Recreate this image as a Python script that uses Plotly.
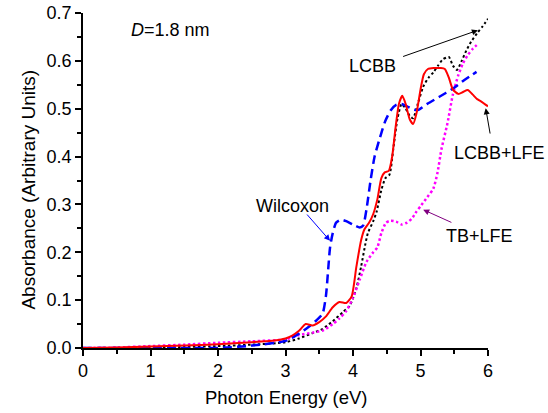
import plotly.graph_objects as go

# ---- data ----
lcbb_lfe_x = [0, 0.5, 1.0, 1.5, 2.0, 2.5, 2.8, 3.0, 3.1, 3.2, 3.3, 3.4, 3.5, 3.6, 3.7, 3.8, 3.9, 3.98,
              4.05, 4.12, 4.17, 4.24, 4.3, 4.36, 4.42, 4.47, 4.53, 4.58, 4.63, 4.68, 4.73, 4.78, 4.84,
              4.89, 4.94, 5.0, 5.05, 5.11, 5.2, 5.3, 5.36, 5.42, 5.48, 5.56, 5.63, 5.7, 5.77, 5.84, 5.9, 6.0]
lcbb_lfe_y = [0, 0.001, 0.003, 0.005, 0.008, 0.012, 0.015, 0.02, 0.026, 0.036, 0.05, 0.047, 0.054, 0.066,
              0.085, 0.096, 0.094, 0.108, 0.17, 0.225, 0.248, 0.262, 0.28, 0.31, 0.355, 0.367, 0.37, 0.40,
              0.46, 0.51, 0.527, 0.51, 0.478, 0.468, 0.49, 0.54, 0.572, 0.583, 0.585, 0.585, 0.583, 0.565,
              0.54, 0.531, 0.535, 0.539, 0.53, 0.52, 0.515, 0.505]

lcbb_x = [0, 0.5, 1.0, 1.5, 2.0, 2.5, 3.0, 3.2, 3.4, 3.55, 3.7, 3.85, 3.95, 4.05, 4.12, 4.18, 4.22, 4.3,
          4.35, 4.42, 4.48, 4.54, 4.6, 4.66, 4.72, 4.78, 4.84, 4.89, 4.96, 5.04, 5.12, 5.19, 5.26, 5.33,
          5.42, 5.48, 5.54, 5.61, 5.68, 5.75, 5.85, 5.92, 6.0]
lcbb_y = [0, 0.0, 0.001, 0.002, 0.004, 0.007, 0.012, 0.02, 0.031, 0.04, 0.056, 0.075, 0.088, 0.125, 0.17,
          0.215, 0.24, 0.265, 0.285, 0.33, 0.355, 0.362, 0.42, 0.48, 0.51, 0.5, 0.485, 0.48, 0.51, 0.546,
          0.565, 0.576, 0.59, 0.603, 0.608, 0.59, 0.581, 0.6, 0.622, 0.64, 0.66, 0.672, 0.688]

wil_x = [0, 1.0, 1.5, 2.0, 2.5, 3.0, 3.2, 3.35, 3.46, 3.55, 3.6, 3.63, 3.66, 3.7, 3.75, 3.82, 3.9, 4.0,
         4.1, 4.15, 4.2, 4.26, 4.32, 4.4, 4.48, 4.56, 4.64, 4.72, 4.8, 4.9, 4.96, 5.1, 5.28, 5.48, 5.65, 5.83]
wil_y = [0, 0.0, 0.0, 0.0, 0.005, 0.015, 0.03, 0.045, 0.058, 0.072, 0.11, 0.16, 0.21, 0.24, 0.262, 0.268,
         0.265, 0.258, 0.252, 0.256, 0.29, 0.35, 0.4, 0.44, 0.475, 0.497, 0.508, 0.51, 0.505, 0.498, 0.497,
         0.51, 0.525, 0.542, 0.56, 0.577]

tb_x = [0, 0.5, 1.0, 1.5, 2.0, 2.5, 3.0, 3.2, 3.4, 3.56, 3.7, 3.8, 3.9, 4.0, 4.1, 4.2, 4.3, 4.36, 4.42,
        4.49, 4.56, 4.64, 4.72, 4.8, 4.87, 4.94, 5.01, 5.1, 5.19, 5.25, 5.31, 5.4, 5.48, 5.56, 5.63, 5.7,
        5.78, 5.86]
tb_y = [0, 0.001, 0.004, 0.007, 0.011, 0.014, 0.018, 0.027, 0.032, 0.037, 0.05, 0.062, 0.077, 0.105,
        0.143, 0.18, 0.2, 0.21, 0.24, 0.262, 0.266, 0.264, 0.258, 0.262, 0.27, 0.285, 0.298, 0.315, 0.333,
        0.365, 0.415, 0.47, 0.53, 0.57, 0.595, 0.612, 0.626, 0.636]

x_ticks = [0, 1, 2, 3, 4, 5, 6]
y_ticks = [0.0, 0.1, 0.2, 0.3, 0.4, 0.5, 0.6, 0.7]

FONT = "Arial, Liberation Sans, sans-serif"

fig = go.Figure()
fig.add_trace(go.Scatter(x=lcbb_x, y=lcbb_y, mode="lines", name="LCBB",
                         line=dict(color="black", width=2, dash="2.5px,2.5px", shape="spline", smoothing=0.6)))
fig.add_trace(go.Scatter(x=tb_x, y=tb_y, mode="lines", name="TB+LFE",
                         line=dict(color="#FF00FF", width=2.5, dash="2.5px,2.5px", shape="spline", smoothing=0.6)))
fig.add_trace(go.Scatter(x=wil_x, y=wil_y, mode="lines", name="Wilcoxon",
                         line=dict(color="#0000FF", width=2.5, dash="9px,5px", shape="spline", smoothing=0.6)))
fig.add_trace(go.Scatter(x=lcbb_lfe_x, y=lcbb_lfe_y, mode="lines", name="LCBB+LFE",
                         line=dict(color="#FF0000", width=2, shape="spline", smoothing=0.6)))

def label(text, x, y, size=18, angle=0):
    fig.add_annotation(x=x, y=y, xref="paper", yref="paper", text=text, showarrow=False, textangle=angle,
                       font=dict(family=FONT, size=size, color="black"), xanchor="center", yanchor="middle")

def arrow(x, y, ax, ay, color):
    fig.add_annotation(x=x, y=y, ax=ax, ay=ay, xref="x", yref="y", axref="x", ayref="y", text="",
                       showarrow=True, arrowhead=2, arrowsize=1.2, arrowwidth=1, arrowcolor=color)

label("<i>D</i>=1.8 nm", 0.2165, 0.9485)
label("LCBB", 0.715, 0.8414)
arrow(5.85, 0.664, 4.72, 0.608, "black")
label("LCBB+LFE", 1.0289, 0.5824)
arrow(5.966, 0.501, 6.035, 0.445, "black")
label("Wilcoxon", 0.5165, 0.4247)
arrow(3.66, 0.224, 3.30, 0.282, "#0000FF")
label("TB+LFE", 0.9795, 0.3354)
arrow(5.04, 0.289, 5.48, 0.261, "#800080")
# axis titles
label("Absorbance (Arbitrary Units)", -0.1333, 0.473, size=19, angle=-90)
label("Photon Energy (eV)", 0.5, -0.147, size=18.5)

axis_common = dict(showline=True, linecolor="black", linewidth=1.5, ticks="outside", ticklen=6,
                   tickwidth=1.5, tickcolor="black", showgrid=False, zeroline=False, mirror=False,
                   automargin=False, tickfont=dict(family=FONT, size=18, color="black"))

fig.update_xaxes(range=[0, 6], tickvals=x_ticks, ticktext=[str(v) for v in x_ticks],
                 minor=dict(ticks="outside", ticklen=4, tickwidth=1.5, tickcolor="black", dtick=0.5),
                 **axis_common)
fig.update_yaxes(range=[0, 0.7], tickvals=y_ticks, ticktext=[f"{v:.1f}" for v in y_ticks],
                 minor=dict(ticks="outside", ticklen=4, tickwidth=1.5, tickcolor="black", dtick=0.05),
                 **axis_common)

fig.update_layout(width=548, height=413, margin=dict(l=83, r=60, t=13, b=65),
                  paper_bgcolor="white", plot_bgcolor="white", showlegend=False)

fig.write_html("out.html", config={"displayModeBar": False},
               post_script="document.body.style.margin='0';")
